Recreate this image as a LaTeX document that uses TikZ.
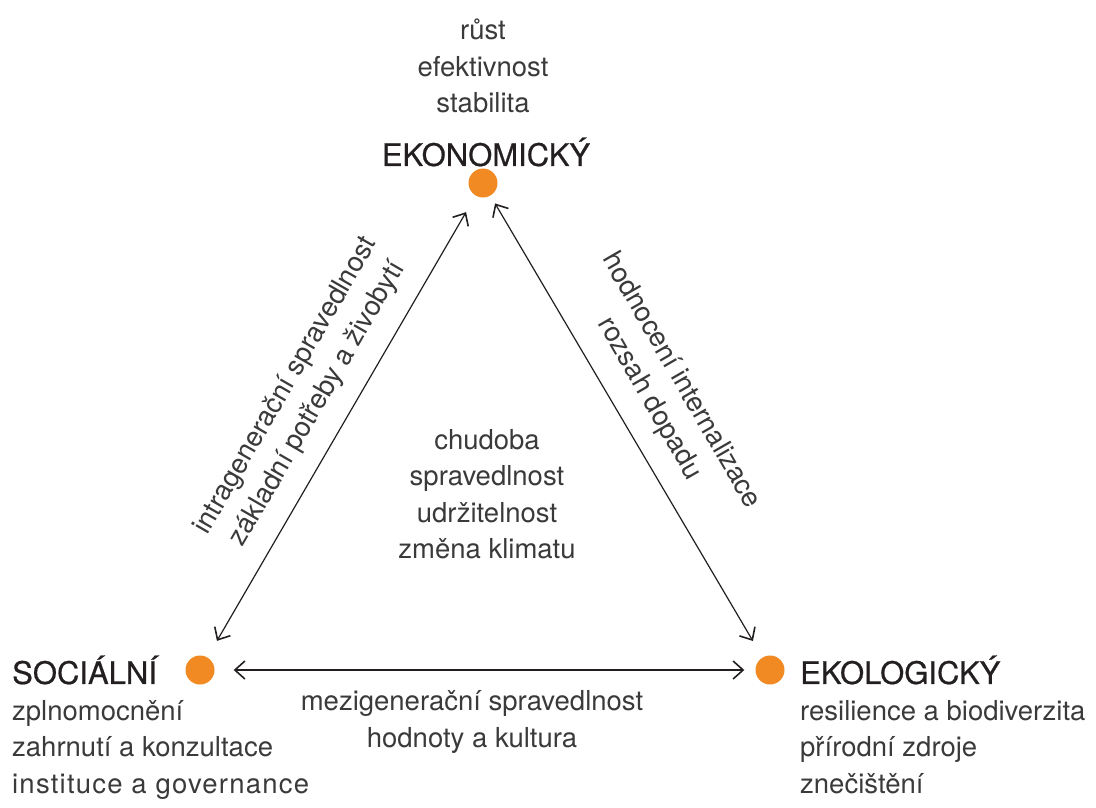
\documentclass[tikz,border=0pt]{standalone}
\usepackage{fontspec}
\setmainfont{TeX Gyre Heros}
\newfontfamily\ttlfont[FakeBold=0.6]{TeX Gyre Heros}
\usetikzlibrary{arrows.meta}
\definecolor{dotorange}{HTML}{F28A24}
\definecolor{txt}{HTML}{3A3A3A}
\definecolor{ttl}{HTML}{231F20}
\tikzset{
  dot/.style={circle,fill=dotorange,minimum size=29pt,inner sep=0pt},
  ttlnode/.style={text=ttl,font=\ttlfont\fontsize{31}{37}\selectfont,inner sep=0pt},
  lst/.style={text=txt,font=\fontsize{27.5}{36.5}\selectfont,inner sep=0pt},
  conn/.style={draw=ttl,line width=1.2pt,{Straight Barb[length=10pt,width=18pt,line width=1.6pt]}-{Straight Barb[length=10pt,width=18pt,line width=1.6pt]}}
}
\begin{document}
\begin{tikzpicture}[x=1pt,y=-1pt]
\useasboundingbox (0,0) rectangle (1096,807);
\node[dot] (eko) at (483,183) {};
\node[dot] (soc) at (200,670) {};
\node[dot] (ekl) at (770,670) {};
\node[lst,align=center,anchor=center] (ekolist) at (483,66) {růst\\efektivnost\\stabilita};
\node[ttlnode,anchor=center] (ekot) at (486,152) {EKONOMICKÝ};
\node[ttlnode,anchor=west] (soct) at (12,670) {SOCIÁLNÍ};
\node[ttlnode,anchor=west] (eklt) at (800,670) {EKOLOGICKÝ};
\node[lst,align=left,anchor=north west] (soclist) at (12,700) {zplnomocnění\\zahrnutí a konzultace\\{\addfontfeature{LetterSpace=4.4}instituce a governance}};
\node[lst,align=left,anchor=north west] (ekllist) at (800,700) {resilience a biodiverzita\\přírodní zdroje\\znečištění};
\node[lst,align=center] (mid) at (487,494) {chudoba\\spravedlnost\\udržitelnost\\změna klimatu};
\draw[conn,shorten <=19pt,shorten >=19pt] (soc) -- (eko);
\draw[conn,shorten <=19pt,shorten >=9pt] (ekl) -- (eko);
\draw[conn,shorten <=19pt,shorten >=11pt] (soc) -- (ekl);
\node[lst,align=center,rotate=60] (lefttxt) at (302,395) {intragenerační spravedlnost\\základní potřeby a živobytí};
\node[lst,align=center,rotate=-60] (righttxt) at (665,390) {hodnocení internalizace\\rozsah dopadu};
\node[lst,align=center] (bottxt) at (472,722) {mezigenerační spravedlnost\\hodnoty a kultura};
\end{tikzpicture}
\end{document}
